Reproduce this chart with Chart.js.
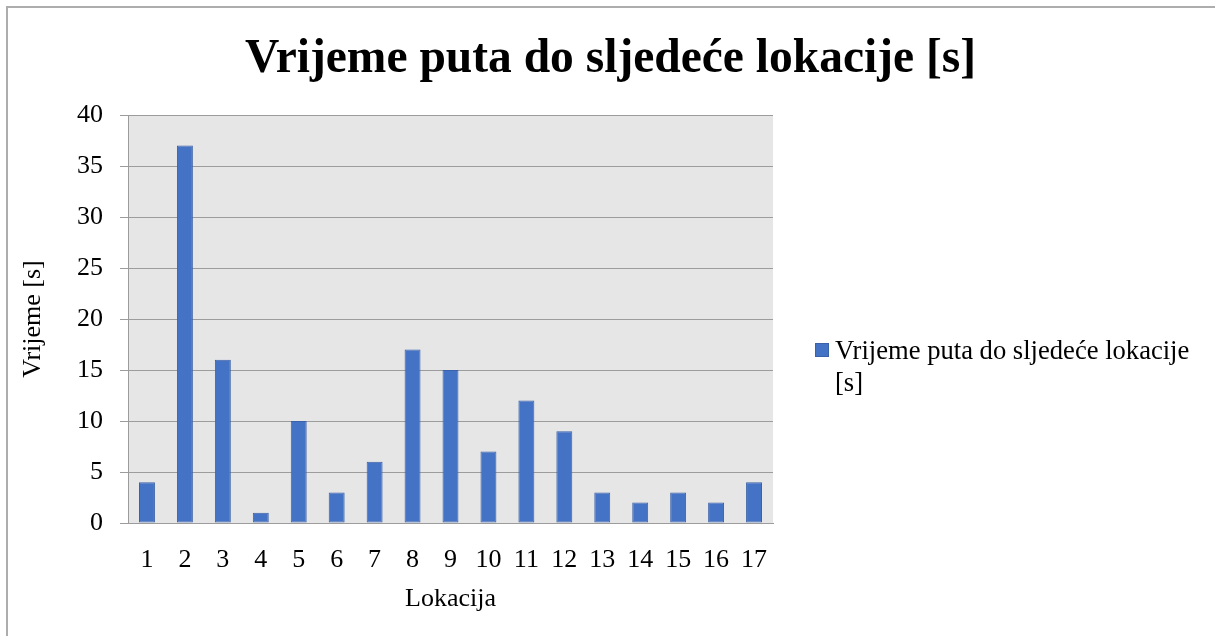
<!DOCTYPE html>
<html lang="hr">
<head>
<meta charset="UTF-8">
<title>Vrijeme puta do sljedeće lokacije</title>
<script src="https://cdn.jsdelivr.net/npm/chart.js"></script>
<style>
    html, body {
        margin: 0;
        padding: 0;
        background: #ffffff;
        overflow: hidden;
    }
    .wrap {
        position: relative;
        width: 1215px;
        height: 636px;
    }
    .frame {
        position: absolute;
        left: 6px;
        top: 6px;
        width: 1215px;
        height: 700px;
        border: 2px solid #adadad;
        pointer-events: none;
    }
</style>
</head>
<body>
<div class="wrap">
    <canvas id="chart"></canvas>
    <div class="frame"></div>
</div>

<script>
// podaci ocitani sa grafa
const lokacije = ['1', '2', '3', '4', '5', '6', '7', '8', '9', '10', '11', '12', '13', '14', '15', '16', '17'];
const vrijeme = [4, 37, 16, 1, 10, 3, 6, 17, 15, 7, 12, 9, 3, 2, 3, 2, 4];
const yTicks = [0, 5, 10, 15, 20, 25, 30, 35, 40];

const naslov = 'Vrijeme puta do sljedeće lokacije [s]';
const legendaRedovi = ['Vrijeme puta do sljedeće lokacije', '[s]'];

const FONT = "'Liberation Serif', 'Times New Roman', serif";
const BAR_FILL = '#4472c4';
const BAR_EDGE = '#3a62a8';

// sivo polje iza stupaca
const plotBackground = {
    id: 'plotBackground',
    beforeDraw(chart) {
        const { ctx, chartArea: a } = chart;
        ctx.save();
        ctx.fillStyle = '#e6e6e6';
        ctx.fillRect(a.left, a.top, a.right - a.left, a.bottom - a.top);
        ctx.restore();
    }
};

// legenda desno, u dva reda kao u originalu
const sideLegend = {
    id: 'sideLegend',
    afterDraw(chart) {
        const { ctx, chartArea: a } = chart;
        const x = a.right + 42;
        const y = a.top + 228;
        ctx.save();
        ctx.fillStyle = BAR_FILL;
        ctx.strokeStyle = BAR_EDGE;
        ctx.lineWidth = 1;
        ctx.fillRect(x, y, 14, 14);
        ctx.strokeRect(x + 0.5, y + 0.5, 13, 13);
        ctx.fillStyle = '#000';
        ctx.font = '26.6px ' + FONT;
        ctx.textBaseline = 'alphabetic';
        ctx.textAlign = 'left';
        legendaRedovi.forEach((red, i) => {
            ctx.fillText(red, x + 20, y + 16 + i * 32);
        });
        ctx.restore();
    }
};

const ctx = document.getElementById('chart').getContext('2d');
new Chart(ctx, {
    type: 'bar',
    data: {
        labels: lokacije,
        datasets: [{
            label: legendaRedovi.join(' '),
            data: vrijeme,
            backgroundColor: BAR_FILL,
            borderColor: BAR_EDGE,
            borderWidth: 1,
            borderSkipped: false,
            categoryPercentage: 1,
            barPercentage: 0.42
        }]
    },
    options: {
        responsive: true,
        maintainAspectRatio: false,
        animation: false,
        layout: {
            padding: { left: 6, right: 0, top: 0, bottom: 0 }
        },
        plugins: {
            legend: { display: false },
            tooltip: { enabled: false },
            title: {
                display: true,
                text: naslov,
                color: '#000',
                font: { family: FONT, size: 47.5, weight: 'bold', lineHeight: 1.2 },
                padding: { top: 31, bottom: 27 }
            }
        },
        scales: {
            x: {
                grid: { display: false, drawTicks: false },
                border: { display: true, color: '#9c9c9c', width: 1 },
                ticks: {
                    color: '#000',
                    padding: 22,
                    font: { family: FONT, size: 26 }
                },
                title: {
                    display: true,
                    text: 'Lokacija',
                    color: '#000',
                    font: { family: FONT, size: 26, lineHeight: 1.2 },
                    padding: { top: 0, bottom: 21 }
                },
                afterFit(scale) { scale.height = 113; }
            },
            y: {
                min: 0,
                max: 40,
                afterBuildTicks(scale) {
                    scale.ticks = yTicks.map(v => ({ value: v }));
                },
                grid: {
                    color: '#9c9c9c',
                    lineWidth: 1,
                    drawTicks: true,
                    tickLength: 8
                },
                border: { display: true, color: '#9c9c9c', width: 1 },
                ticks: {
                    color: '#000',
                    padding: 17,
                    font: { family: FONT, size: 26 }
                },
                title: {
                    display: true,
                    text: 'Vrijeme [s]',
                    color: '#000',
                    font: { family: FONT, size: 26, lineHeight: 1.2 },
                    padding: { top: 12, bottom: 0 }
                },
                afterFit(scale) { scale.width = 122; }
            },
            // prazna os desno samo da ostavi mjesto za legendu
            rezerva: {
                position: 'right',
                display: true,
                grid: { display: false },
                border: { display: false },
                ticks: { display: false },
                afterFit(scale) { scale.width = 442; }
            }
        }
    },
    plugins: [plotBackground, sideLegend]
});
</script>
</body>
</html>
